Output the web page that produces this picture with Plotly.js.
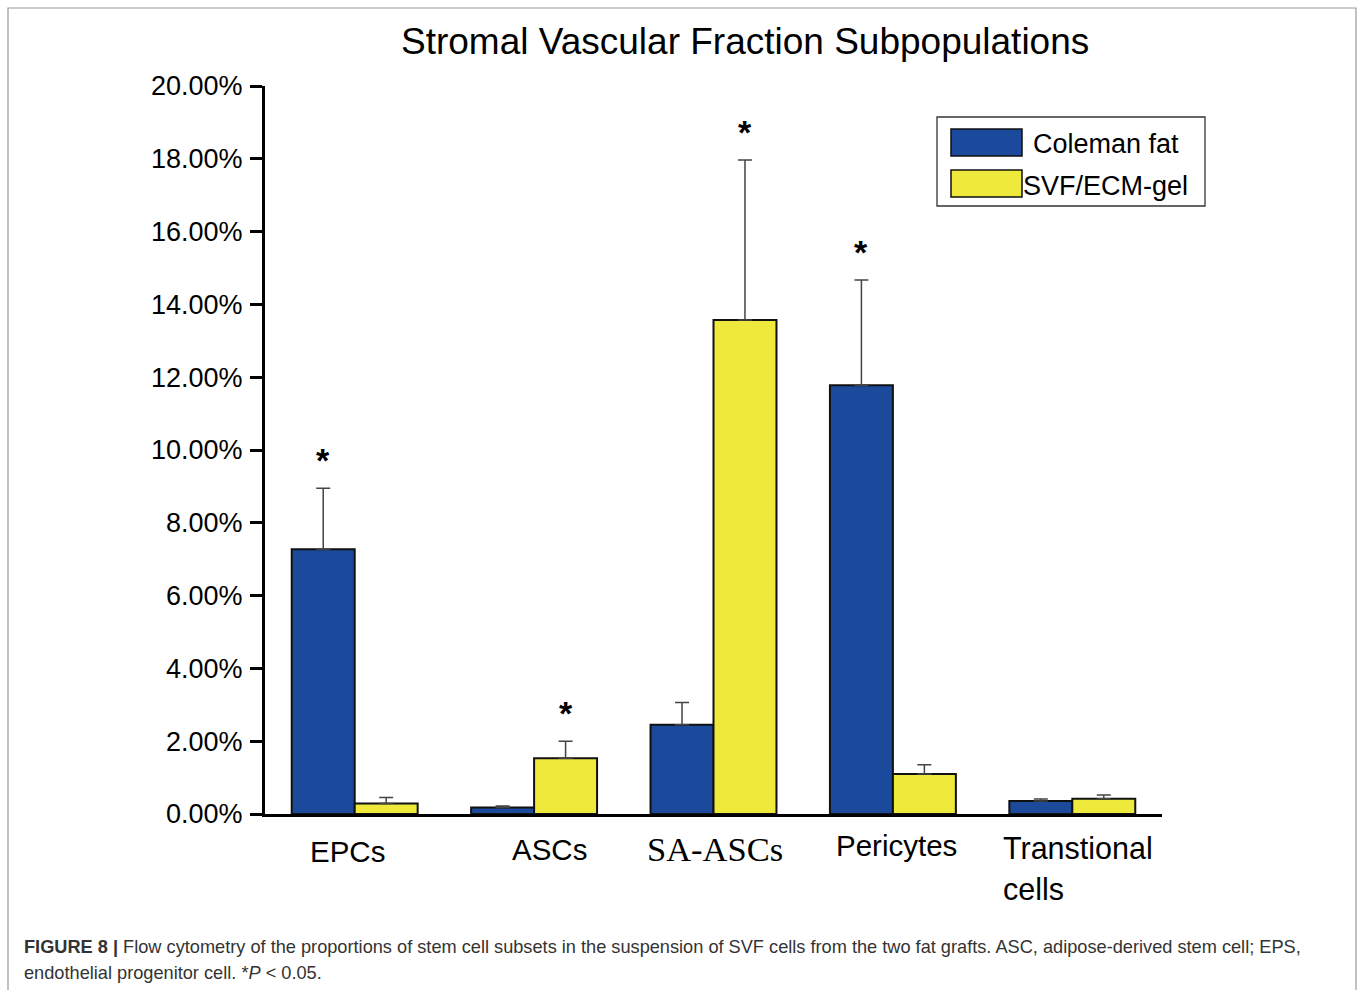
<!DOCTYPE html>
<html><head><meta charset="utf-8">
<script src="https://cdn.plot.ly/plotly-3.0.1.min.js"></script>
<style>html,body{margin:0;padding:0;background:#fff}#chart{width:1358px;height:990px}</style>
</head><body><div id="chart"></div>
<script>
const categories = ["EPCs", "ASCs", "SA-ASCs", "Pericytes", "Transtional cells"];
const seriesNames = ["Coleman fat", "SVF/ECM-gel"];
const colemanFat = [7.27, 0.18, 2.45, 11.78, 0.36];
const colemanErr = [1.68, 0.04, 0.61, 2.89, 0.05];
const svfEcmGel = [0.29, 1.53, 13.57, 1.10, 0.42];
const svfErr = [0.16, 0.47, 4.40, 0.25, 0.10];
const yTickValues = [0, 2, 4, 6, 8, 10, 12, 14, 16, 18, 20];
const yTickLabels = ["0.00%", "2.00%", "4.00%", "6.00%", "8.00%", "10.00%", "12.00%", "14.00%", "16.00%", "18.00%", "20.00%"];
// significant differences (*P < 0.05): category index and series index (0 = Coleman, 1 = SVF)
const sigCategory = [0, 1, 2, 3];
const sigSeries = [0, 1, 1, 0];
const captionBold = "FIGURE 8 |";
const captionLine1 = " Flow cytometry of the proportions of stem cell subsets in the suspension of SVF cells from the two fat grafts. ASC, adipose-derived stem cell; EPS,";
const captionLine2 = "endothelial progenitor cell. *<i>P</i> < 0.05.";

const W = 1358, H = 990;
const L = 265, R = 1162, T = 86, B = 814;
const px = x => (x - L) / (R - L);
const py = y => (B - y) / (B - T);

const blue = "#1B4A9C", yellow = "#EFE93C";
const barW = 63;

const traces = [
  {type: "bar", name: seriesNames[0], x: categories, y: colemanFat,
   marker: {color: blue, line: {color: "#111", width: 2}},
   error_y: {type: "data", array: colemanErr, symmetric: false, arrayminus: colemanErr.map(() => 0), color: "#444", thickness: 1.5, width: 7},
   showlegend: false, hoverinfo: "skip"},
  {type: "bar", name: seriesNames[1], x: categories, y: svfEcmGel,
   marker: {color: yellow, line: {color: "#111", width: 2}},
   error_y: {type: "data", array: svfErr, symmetric: false, arrayminus: svfErr.map(() => 0), color: "#444", thickness: 1.5, width: 7},
   showlegend: false, hoverinfo: "skip"}
];

const ann = [];
// title
ann.push({xref: "paper", yref: "paper", x: px(745), y: py(42), text: "Stromal Vascular Fraction Subpopulations",
  showarrow: false, xanchor: "center", yanchor: "middle", font: {family: "Liberation Sans, Arial", size: 37, color: "#000"}});
// category labels
const labelShift = [-7, 15, 1.5, 4];
const labelY = [851, 849, 849, 845];
for (let i = 0; i < 4; i++) {
  ann.push({xref: "x", yref: "paper", x: categories[i], y: py(labelY[i]), xshift: labelShift[i], text: categories[i],
    showarrow: false, xanchor: "center", yanchor: "middle",
    font: {family: i === 2 ? "Liberation Serif, Times New Roman" : "Liberation Sans, Arial", size: i === 2 ? 34.5 : 29.5, color: "#000"}});
}
const lastWords = categories[4].split(" ");
ann.push({xref: "x", yref: "paper", x: categories[4], y: py(848), xshift: -71, text: lastWords[0],
  showarrow: false, xanchor: "left", yanchor: "middle", font: {family: "Liberation Sans, Arial", size: 30.5, color: "#000"}});
ann.push({xref: "x", yref: "paper", x: categories[4], y: py(889), xshift: -71, text: lastWords[1],
  showarrow: false, xanchor: "left", yanchor: "middle", font: {family: "Liberation Sans, Arial", size: 30.5, color: "#000"}});
// significance stars
const seriesVals = [colemanFat, svfEcmGel], seriesErrs = [colemanErr, svfErr];
for (let k = 0; k < sigCategory.length; k++) {
  const c = sigCategory[k], s = sigSeries[k];
  ann.push({xref: "x", yref: "y", x: categories[c], y: seriesVals[s][c] + seriesErrs[s][c],
    xshift: s === 0 ? -barW / 2 : barW / 2, yshift: 7, text: "<b>*</b>", showarrow: false,
    xanchor: "center", yanchor: "bottom", font: {family: "Liberation Sans, Arial", size: 34, color: "#000"}});
}
// legend text
ann.push({xref: "paper", yref: "paper", x: px(1031), y: py(144), text: seriesNames[0], showarrow: false,
  xanchor: "left", yanchor: "middle", font: {family: "Liberation Sans, Arial", size: 27, color: "#000"}});
ann.push({xref: "paper", yref: "paper", x: px(1021), y: py(186), text: seriesNames[1], showarrow: false,
  xanchor: "left", yanchor: "middle", font: {family: "Liberation Sans, Arial", size: 27, color: "#000"}});
// caption
ann.push({xref: "paper", yref: "paper", x: px(22), y: py(947), text: "<b>" + captionBold + "</b>" + captionLine1, showarrow: false,
  xanchor: "left", yanchor: "middle", font: {family: "Liberation Sans, Arial", size: 18.2, color: "#333"}});
ann.push({xref: "paper", yref: "paper", x: px(22), y: py(973), text: captionLine2, showarrow: false,
  xanchor: "left", yanchor: "middle", font: {family: "Liberation Sans, Arial", size: 18.2, color: "#333"}});

const shapes = [
  // outer frame
  {type: "rect", xref: "paper", yref: "paper", x0: px(8), x1: px(1356), y0: py(1000), y1: py(8), line: {color: "#999", width: 1.2}, fillcolor: "rgba(0,0,0,0)", layer: "below"},
  // legend box
  {type: "rect", xref: "paper", yref: "paper", x0: px(937), x1: px(1205), y0: py(206), y1: py(117), line: {color: "#333", width: 1.3}, fillcolor: "#fff"},
  {type: "rect", xref: "paper", yref: "paper", x0: px(951), x1: px(1022), y0: py(156), y1: py(129), line: {color: "#111", width: 1.5}, fillcolor: blue},
  {type: "rect", xref: "paper", yref: "paper", x0: px(951), x1: px(1022), y0: py(197), y1: py(170), line: {color: "#111", width: 1.5}, fillcolor: yellow}
];

const layout = {
  width: W, height: H,
  margin: {l: L, r: W - R, t: T, b: H - B, pad: 0},
  paper_bgcolor: "#fff", plot_bgcolor: "#fff",
  barmode: "group", bargap: 0.298, bargroupgap: 0,
  showlegend: false,
  xaxis: {type: "category", range: [-0.5, 4.5], showticklabels: false, ticks: "", showgrid: false, zeroline: false,
    showline: true, linecolor: "#000", linewidth: 3, fixedrange: true},
  yaxis: {range: [0, 20], tickvals: yTickValues, ticktext: yTickLabels, ticks: "outside", ticklen: 12, tickwidth: 3, tickcolor: "#000",
    showgrid: false, zeroline: false, showline: true, linecolor: "#000", linewidth: 3, ticklabelstandoff: 2,
    tickfont: {family: "Liberation Sans, Arial", size: 27, color: "#000"}, fixedrange: true},
  annotations: ann, shapes: shapes
};
Plotly.newPlot("chart", traces, layout, {displayModeBar: false, staticPlot: true});
</script></body></html>
